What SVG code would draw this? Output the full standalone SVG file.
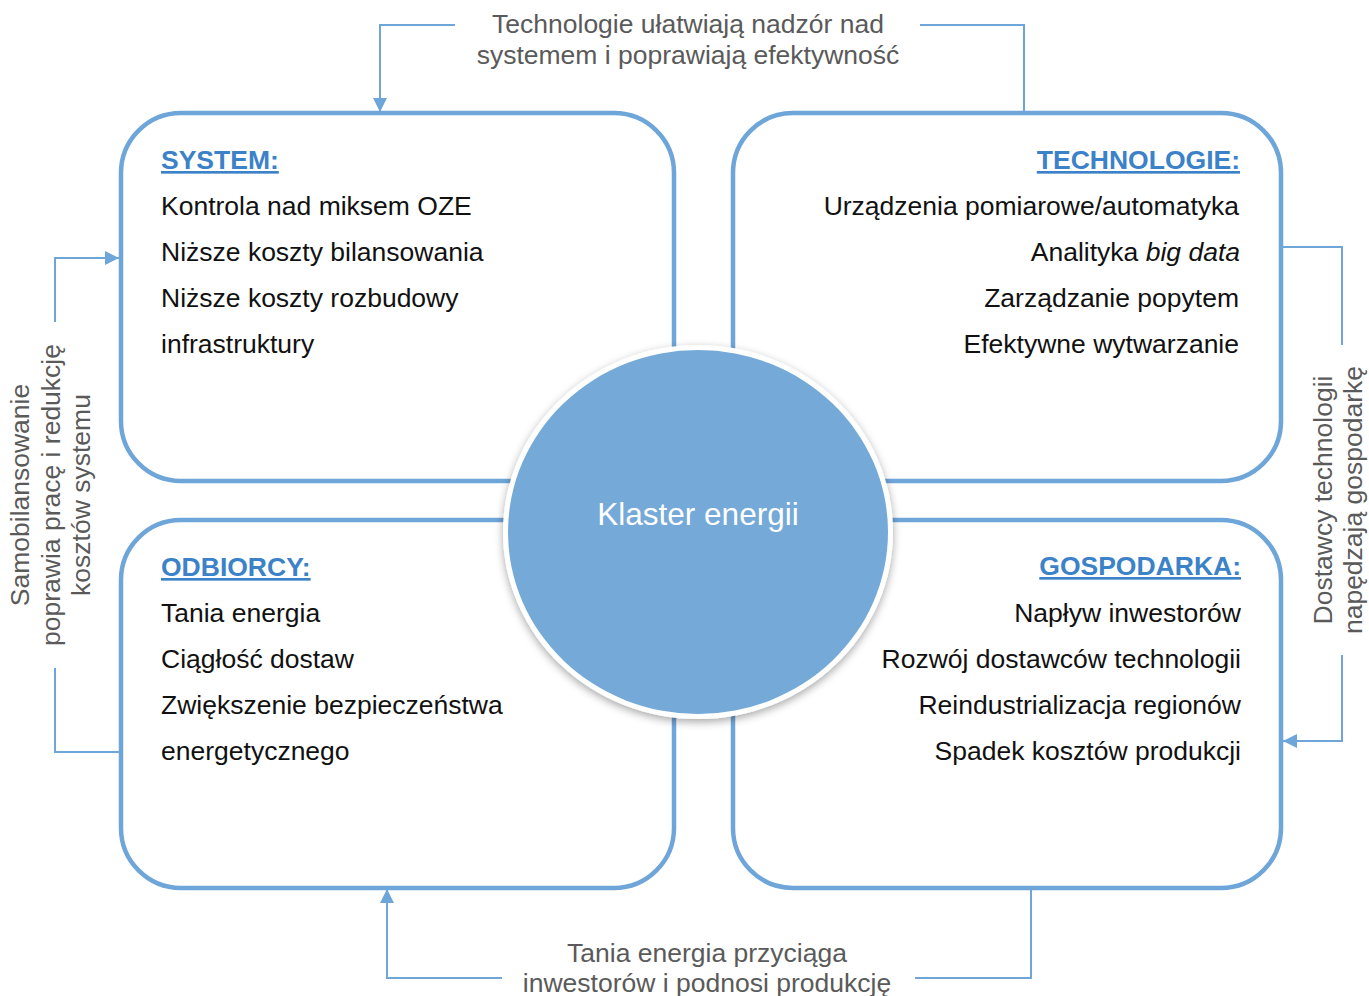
<svg xmlns="http://www.w3.org/2000/svg" width="1369" height="996" viewBox="0 0 1369 996">
  <style>
    .box { fill: #ffffff; stroke: #6fa6d9; stroke-width: 4.5; }
    .conn { fill: none; stroke: #6fa6d9; stroke-width: 2; }
    .head { font-family: "Liberation Sans", Arial, sans-serif; font-size: 26.5px; font-weight: bold; fill: #3b82c8; text-decoration: underline; }
    .item { font-family: "Liberation Sans", Arial, sans-serif; font-size: 26.5px; fill: #111111; }
    .note { font-family: "Liberation Sans", Arial, sans-serif; font-size: 26.5px; fill: #5a5a5a; text-anchor: middle; }
    .r { text-anchor: end; }
  </style>
  <defs>
    <marker id="arrow" viewBox="0 0 10 10" refX="10" refY="5" markerWidth="14" markerHeight="14" markerUnits="userSpaceOnUse" orient="auto">
      <path d="M0,0 L10,5 L0,10 z" fill="#6fa6d9"/>
    </marker>
    <filter id="shadow" x="-20%" y="-20%" width="140%" height="140%">
      <feDropShadow dx="0" dy="3" stdDeviation="4" flood-color="#000000" flood-opacity="0.35"/>
    </filter>
  </defs>
  <rect width="1369" height="996" fill="#ffffff"/>

  <!-- connectors -->
  <g id="connectors">
    <polyline class="conn" points="455,25 380,25 380,112" marker-end="url(#arrow)"/>
    <polyline class="conn" points="920,25 1024,25 1024,113"/>
    <polyline class="conn" points="1283,247 1342,247 1342,345"/>
    <polyline class="conn" points="1342,655 1342,741 1283,741" marker-end="url(#arrow)"/>
    <polyline class="conn" points="55,322 55,258 119,258" marker-end="url(#arrow)"/>
    <polyline class="conn" points="55,668 55,752 121,752"/>
    <polyline class="conn" points="502,978 387,978 387,889" marker-end="url(#arrow)"/>
    <polyline class="conn" points="915,978 1031,978 1031,888"/>
  </g>

  <!-- SYSTEM -->
  <g id="system">
    <rect class="box" x="121" y="113" width="553" height="368" rx="60" ry="60"/>
    <text class="head" x="161" y="169">SYSTEM:</text>
    <text class="item" x="161" y="215">Kontrola nad miksem OZE</text>
    <text class="item" x="161" y="261">Niższe koszty bilansowania</text>
    <text class="item" x="161" y="307">Niższe koszty rozbudowy</text>
    <text class="item" x="161" y="353">infrastruktury</text>
  </g>

  <!-- TECHNOLOGIE -->
  <g id="technologie">
    <rect class="box" x="733" y="113" width="548" height="368" rx="60" ry="60"/>
    <text class="head r" x="1240" y="169">TECHNOLOGIE:</text>
    <text class="item r" x="1239" y="215">Urządzenia pomiarowe/automatyka</text>
    <text class="item r" x="1240" y="261">Analityka <tspan font-style="italic">big data</tspan></text>
    <text class="item r" x="1239" y="307">Zarządzanie popytem</text>
    <text class="item r" x="1239" y="353">Efektywne wytwarzanie</text>
  </g>

  <!-- ODBIORCY -->
  <g id="odbiorcy">
    <rect class="box" x="121" y="520" width="553" height="368" rx="60" ry="60"/>
    <text class="head" x="161" y="576">ODBIORCY:</text>
    <text class="item" x="161" y="622">Tania energia</text>
    <text class="item" x="161" y="668">Ciągłość dostaw</text>
    <text class="item" x="161" y="714">Zwiększenie bezpieczeństwa</text>
    <text class="item" x="161" y="760">energetycznego</text>
  </g>

  <!-- GOSPODARKA -->
  <g id="gospodarka">
    <rect class="box" x="733" y="520" width="548" height="368" rx="60" ry="60"/>
    <text class="head r" x="1241" y="575">GOSPODARKA:</text>
    <text class="item r" x="1241" y="622">Napływ inwestorów</text>
    <text class="item r" x="1241" y="668">Rozwój dostawców technologii</text>
    <text class="item r" x="1241" y="714">Reindustrializacja regionów</text>
    <text class="item r" x="1241" y="760">Spadek kosztów produkcji</text>
  </g>

  <!-- central cluster -->
  <g id="klaster">
    <ellipse cx="698" cy="532" rx="195" ry="187" fill="#ffffff" filter="url(#shadow)"/>
    <ellipse cx="698" cy="532" rx="190" ry="182" fill="#74a9d8"/>
    <text x="698" y="525" font-family="Liberation Sans, Arial, sans-serif" font-size="31.5" fill="#ffffff" text-anchor="middle">Klaster energii</text>
  </g>

  <!-- relation labels -->
  <g id="label-top">
    <text class="note" x="688" y="33">Technologie ułatwiają nadzór nad</text>
    <text class="note" x="688" y="64">systemem i poprawiają efektywność</text>
  </g>
  <g id="label-left">
    <text class="note" transform="translate(29,495) rotate(-90)">Samobilansowanie</text>
    <text class="note" transform="translate(60,495) rotate(-90)">poprawia pracę i redukcję</text>
    <text class="note" transform="translate(90,495) rotate(-90)">kosztów systemu</text>
  </g>
  <g id="label-right">
    <text class="note" transform="translate(1332,500) rotate(-90)">Dostawcy technologii</text>
    <text class="note" transform="translate(1362,500) rotate(-90)">napędzają gospodarkę</text>
  </g>
  <g id="label-bottom">
    <text class="note" x="707" y="962">Tania energia przyciąga</text>
    <text class="note" x="707" y="992">inwestorów i podnosi produkcję</text>
  </g>
</svg>
